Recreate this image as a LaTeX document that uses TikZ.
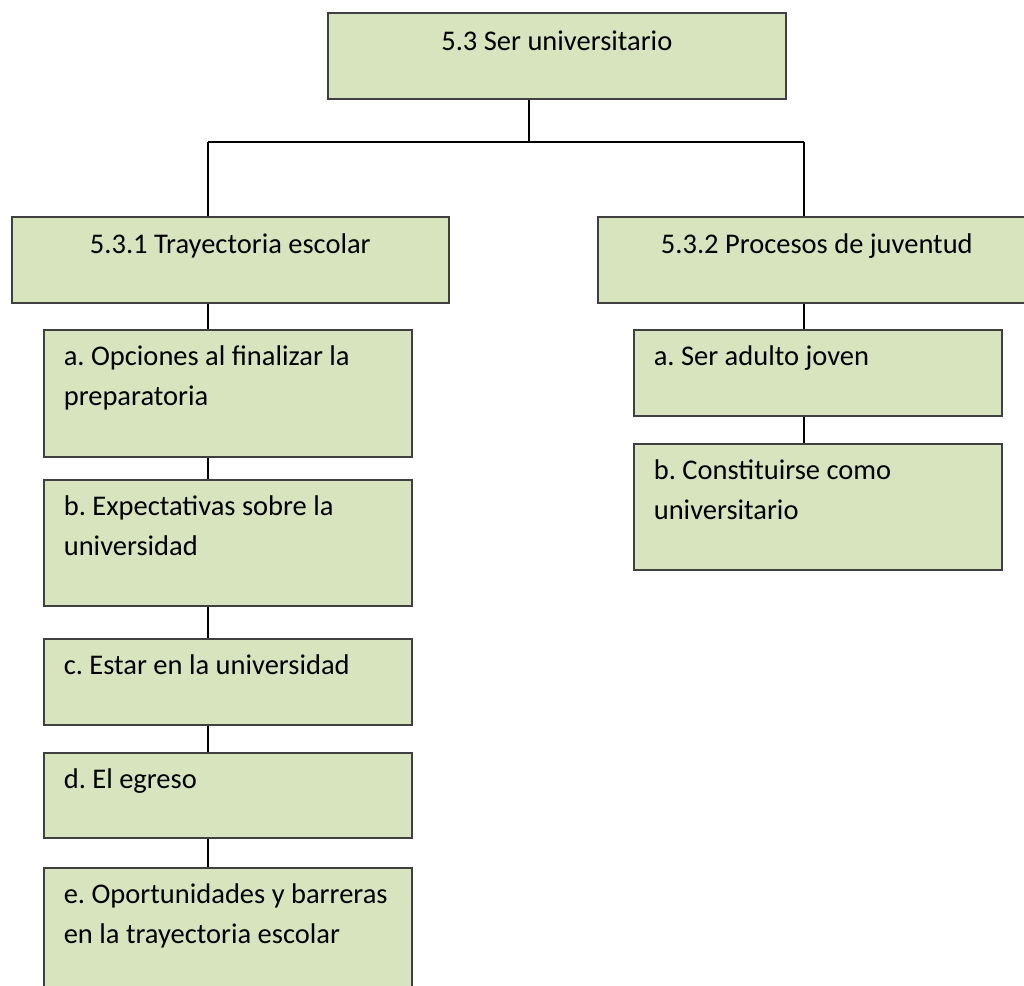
\documentclass[tikz,border=0pt]{standalone}
\usepackage{fontspec}
\setmainfont{Carlito}
\usepackage{tikz}
\usetikzlibrary{calc, positioning}
\definecolor{Verdecaja}{RGB}{215,228,189}
\definecolor{Bordecaja}{RGB}{64,64,64}

\begin{document}
\frenchspacing
\begin{tikzpicture}[
  x=1pt, y=-1pt,
  font=\fontsize{28.5}{40}\selectfont,
  tema/.style={draw=Bordecaja, fill=Verdecaja, line width=1.6pt,
               anchor=north west, inner xsep=0pt, inner ysep=0pt,
               align=flush center, text width=#1, text height=37pt},
  sub/.style={draw=Bordecaja, fill=Verdecaja, line width=1.6pt,
              anchor=north west, inner xsep=20pt, inner ysep=0pt,
              align=flush left, text width=328pt, text height=36pt},
  conn/.style={draw=black, line width=1.6pt}
]

\useasboundingbox (0,0) rectangle (1024,985);
\clip (0,0) rectangle (1024,985);

%% ——— Nivel 1: Tema ———
\node[tema=458pt, text height=38pt, text depth=48pt] (ser) at (327,12) {5.3 Ser universitario};

%% ——— Nivel 2: Subtemas ———
\node[tema=437pt, text depth=49pt] (tray) at ( 11,216) {5.3.1 Trayectoria escolar};
\node[tema=438pt, text depth=49pt] (juv)  at (597,216) {5.3.2 Procesos de juventud};

%% ——— Nivel 3: Trayectoria escolar ———
\node[sub, text depth=91pt] (opc) at (43,329) {a. Opciones al finalizar la\\preparatoria};
\node[sub, text depth=90pt] (exp) at (43,479) {b. Expectativas sobre la\\universidad};
\node[sub, text depth=50pt] (est) at (43,638) {c. Estar en la universidad};
\node[sub, text depth=49pt] (egr) at (43,752) {d. El egreso};
\node[sub, text depth=91pt] (opo) at (43,867) {e. Oportunidades y barreras\\en la trayectoria escolar};

%% ——— Nivel 3: Procesos de juventud ———
\node[sub, text depth=50pt] (adu) at (633,329) {a. Ser adulto joven};
\node[sub, text depth=90pt] (con) at (633,443) {b. Constituirse como\\universitario};

%% ——— Conectores ———
\coordinate (troncoC) at (529,142);
\coordinate (troncoL) at (208,142);
\coordinate (troncoR) at (804,142);

\draw[conn] (ser.south -| troncoC) -- (troncoC);
\draw[conn] (troncoL) -- (troncoR);
\draw[conn] (troncoL) -- (tray.north -| troncoL);
\draw[conn] (troncoR) -- (juv.north -| troncoR);

\foreach \a/\b in {tray/opc, opc/exp, exp/est, est/egr, egr/opo}
  \draw[conn] (\a.south -| troncoL) -- (\b.north -| troncoL);

\foreach \a/\b in {juv/adu, adu/con}
  \draw[conn] (\a.south -| troncoR) -- (\b.north -| troncoR);

\end{tikzpicture}
\end{document}
